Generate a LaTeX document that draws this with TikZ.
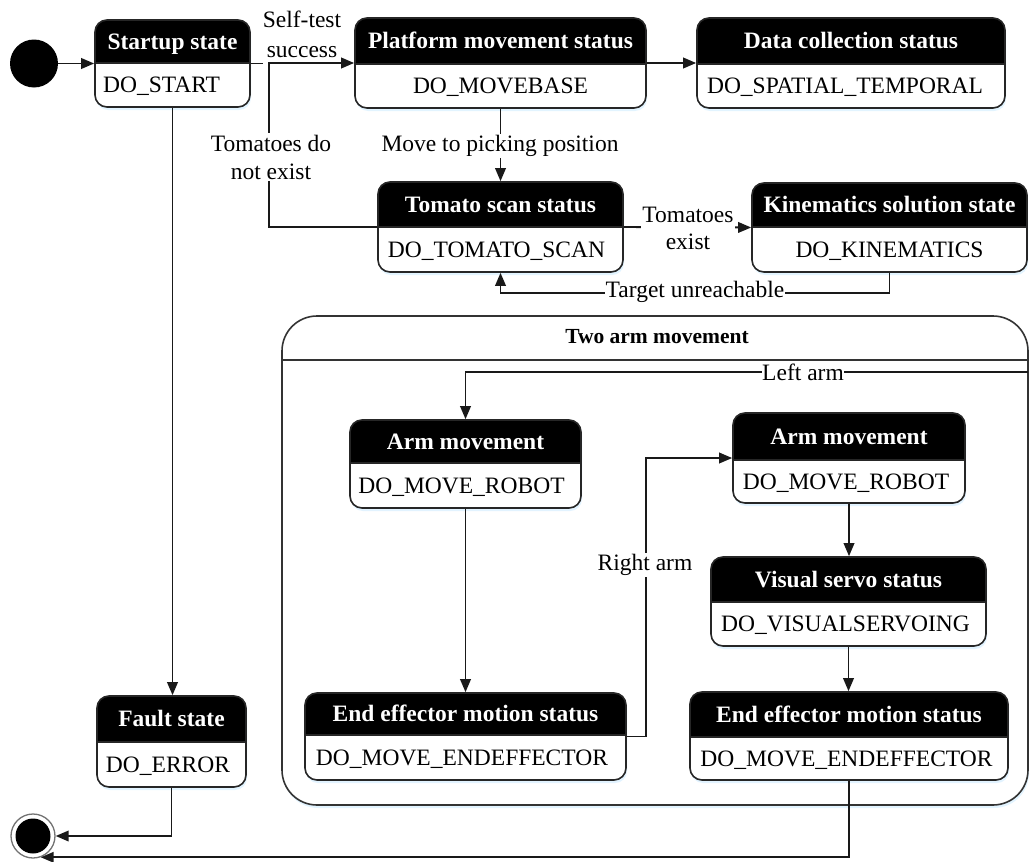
\documentclass[tikz,border=0pt]{standalone}
\usepackage{fontspec}
\setmainfont{Liberation Serif}
\usetikzlibrary{arrows.meta,fit,calc}

\tikzset{
  conn/.style={line width=1.9pt, draw=black!90},
  arr/.style={conn, -{Triangle[length=13pt,width=10.5pt]}},
  stframe/.style={draw=black!85, line width=1.6pt, rounded corners=12pt, inner sep=0pt},
  ttl/.style={text=white, font=\fontsize{23.5}{28}\selectfont\bfseries, inner sep=0pt, text height=15.5pt, text depth=0pt},
  act/.style={font=\fontsize{23.5}{28}\selectfont, inner sep=0pt, text height=15.5pt, text depth=0pt},
  lbl/.style={font=\fontsize{23.5}{28}\selectfont, fill=white, inner sep=1.5pt, align=center},
  boxshadow/.style={fill=blue!40!cyan!25, opacity=0.45},
}

% state box: name, left, top, right, header bottom, bottom, title, action, action x-offset
\newcommand\stbox[9]{%
  \fill[boxshadow, rounded corners=12pt] ([xshift=1pt,yshift=-3pt]#2,#3) rectangle ([xshift=1pt,yshift=-3pt]#4,#6);
  \begin{scope}
    \clip[rounded corners=12pt] (#2,#3) rectangle (#4,#6);
    \fill[white] (#2,#3) rectangle (#4,#6);
    \fill[black] (#2,#3) rectangle (#4,#5);
  \end{scope}
  \draw[black!85, line width=1.4pt] (#2,#5) -- (#4,#5);
  \node[stframe, fit={(#2,#3) (#4,#6)}] (#1) {};
  \node[ttl] (#1-title) at ({(#2+#4)/2},{(#3+#5)/2}) {#7};
  \node[act] (#1-action) at ({(#2+#4)/2+#9},{(#5+#6)/2}) {#8};
}

\begin{document}
\begin{tikzpicture}[x=1pt,y=-1pt]
\useasboundingbox (0,0) rectangle (1029,862);

% composite state for the two arms
\fill[boxshadow, rounded corners=35pt] (283,319) rectangle (1029,808);
\node[draw=black!80, line width=1.6pt, fill=white, rounded corners=35pt, inner sep=0pt,
      fit={(282,316) (1028,805)}] (twoarm) {};
\draw[black!80, line width=1.6pt] (282,360) -- (1028,360);
\node[font=\fontsize{21.5}{26}\selectfont\bfseries, inner sep=0pt] (twoarm-title) at (657,337) {Two arm movement};

% initial and final pseudo-states
\node[circle, fill=black, minimum size=48pt, inner sep=0pt] (init) at (34,63.5) {};
\node[circle, draw=black!55, line width=1.3pt, fill=white, minimum size=44pt, inner sep=0pt] (final) at (33,836) {};
\node[circle, fill=black, minimum size=35pt, inner sep=0pt] (finaldot) at (final.center) {};

% states
\stbox{startup}{95}{20}{250}{63}{107}{Startup state}{DO\_START}{-11}
\stbox{platform}{355}{18}{646}{64}{108}{Platform movement status}{DO\_MOVEBASE}{0}
\stbox{data}{697}{18}{1005}{64}{108}{Data collection status}{DO\_SPATIAL\_TEMPORAL}{-6}
\stbox{tscan}{378}{182}{623}{227}{272}{Tomato scan status}{DO\_TOMATO\_SCAN}{-4}
\stbox{kin}{752}{183}{1027}{227}{272}{Kinematics solution state}{DO\_KINEMATICS}{0}
\stbox{arm1}{350}{420}{581}{463}{508}{Arm movement}{DO\_MOVE\_ROBOT}{-4}
\stbox{arm2}{733}{413}{965}{460}{503}{Arm movement}{DO\_MOVE\_ROBOT}{-3}
\stbox{vis}{711}{557}{986}{602}{646}{Visual servo status}{DO\_VISUALSERVOING}{-3}
\stbox{eel}{305}{693}{626}{735}{780}{End effector motion status}{DO\_MOVE\_ENDEFFECTOR}{-3.5}
\stbox{eer}{690}{692}{1008}{737}{780}{End effector motion status}{DO\_MOVE\_ENDEFFECTOR}{-2.5}
\stbox{fault}{97}{696}{246}{742}{787}{Fault state}{DO\_ERROR}{-3.5}

% transitions
\draw[arr] (init.east) -- (startup.west);
\draw[conn] (startup.east) -- ++(12,0);
\node[font=\fontsize{23.5}{30}\selectfont, inner sep=0pt, align=center] (selftest) at (302,34) {Self-test\\success};
\draw[arr] (tscan.west) -| ([xshift=-85pt]platform.west) -- (platform.west);
\node[lbl] (notexist) at (271,157) {Tomatoes do\\not exist};
\draw[arr] (platform.east) -- (data.west);
\draw[arr] (platform.south) -- (tscan.north);
\node[lbl] (movepick) at (500,146) {Move to picking position};
\draw[arr] (tscan.east) -- (kin.west);
\node[lbl, font=\fontsize{23.5}{27}\selectfont] (exist) at (688,228) {Tomatoes\\exist};
\draw[arr] (kin.south) -- ++(0,20) -| (tscan.south);
\node[lbl, inner sep=0.5pt] (unreach) at (695,292) {Target unreachable};
\draw[arr] (startup.south) -- (startup.south |- fault.north);
\draw[arr] (fault.south) |- (final.east);
\draw[arr] (eer.south) |- (final.-70);

% inside the two arm state
\coordinate (leftin) at (1028,372);
\draw[arr] (leftin) -| (arm1.north);
\node[lbl, inner sep=0.5pt] (leftlbl) at (803,372) {Left arm};
\draw[arr] (arm1.south) -- (arm1.south |- eel.north);
\draw[arr] (eel.east) -- ++(19,0) |- (arm2.west);
\node[lbl] (rightlbl) at (645,565) {Right arm};
\draw[arr] (arm2.south) -- (arm2.south |- vis.north);
\draw[arr] (vis.south) -- (vis.south |- eer.north);
\end{tikzpicture}
\end{document}
